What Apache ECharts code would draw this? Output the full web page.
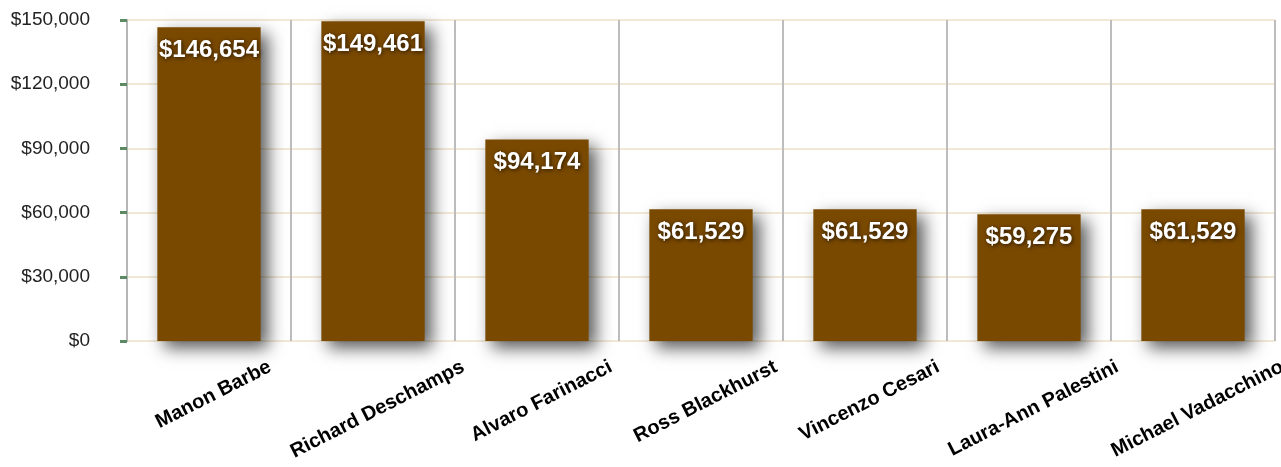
<!DOCTYPE html>
<html>

<head>
	<meta charset="UTF-8">
	<title></title>
	<style>
		html, body {
			margin: 0;
			padding: 0;
			background: #fff;
		}
		#chart {
			width: 1281px;
			height: 467px;
		}
	</style>
	<script src="https://cdn.jsdelivr.net/npm/echarts@6/dist/echarts.min.js"></script>
</head>

<body>
	<div id="chart"></div>
	<script>
		var names = ['Manon Barbe', 'Richard Deschamps', 'Alvaro Farinacci', 'Ross Blackhurst',
			'Vincenzo Cesari', 'Laura-Ann Palestini', 'Michael Vadacchino'];
		var sales = [146654, 149461, 94174, 61529, 61529, 59275, 61529];

		var yMin = 0, yMax = 150000, yStep = 30000;

		var labelFont = 'bold 20px "Liberation Sans", Arial, sans-serif';
		var labelAngle = 27;

		function money(v) {
			return '$' + String(v).replace(/\B(?=(\d{3})+(?!\d))/g, ',');
		}

		// the slanted names are centred on their column but hang from a common top line,
		// so each one gets a padding that depends on its own width
		var ctx = document.createElement('canvas').getContext('2d');
		ctx.font = labelFont;
		var rad = labelAngle * Math.PI / 180;
		var categories = names.map(function (n) {
			var w = ctx.measureText(n).width;
			var r = w * Math.sin(rad) * Math.sin(rad);
			var t = w * Math.sin(rad) * Math.cos(rad) / 2;
			return {
				value: n,
				textStyle: { align: 'center', verticalAlign: 'top', padding: [t, r, 0, 0] }
			};
		});

		var myChart = echarts.init(document.getElementById('chart'));

		var option = {
			animation: false,
			grid: {
				left: 127,
				right: 6,
				top: 20,
				bottom: 126,
				outerBoundsMode: 'none'
			},
			xAxis: {
				type: 'category',
				data: categories,
				axisLine: { show: false },
				axisTick: { show: false },
				splitLine: {
					show: true,
					lineStyle: { color: '#bdbdbd', width: 2 }
				},
				axisLabel: {
					interval: 0,
					rotate: labelAngle,
					align: 'center',
					verticalAlign: 'top',
					margin: 16,
					fontFamily: '"Liberation Sans", Arial, sans-serif',
					fontWeight: 'bold',
					fontSize: 20,
					color: '#000'
				}
			},
			yAxis: {
				type: 'value',
				min: yMin,
				max: yMax,
				interval: yStep,
				axisLine: {
					show: true,
					lineStyle: { color: '#b5b5b5', width: 2 }
				},
				axisTick: {
					show: true,
					length: 7,
					lineStyle: { color: '#5b8a63', width: 3 }
				},
				splitLine: {
					lineStyle: { color: '#f1e9d6', width: 2 }
				},
				axisLabel: {
					margin: 37,
					fontFamily: '"Liberation Sans", Arial, sans-serif',
					fontSize: 19,
					color: '#222',
					formatter: money
				}
			},
			series: [{
				type: 'bar',
				data: sales,
				barWidth: '63%',
				itemStyle: {
					color: '#7a4900',
					shadowColor: 'rgba(0,0,0,0.65)',
					shadowBlur: 16,
					shadowOffsetX: 7,
					shadowOffsetY: 7
				},
				label: {
					show: true,
					position: 'insideTop',
					distance: 11,
					fontFamily: '"Liberation Sans", Arial, sans-serif',
					fontWeight: 'bold',
					fontSize: 24,
					color: '#fff',
					textShadowColor: 'rgba(0,0,0,0.7)',
					textShadowBlur: 4,
					textShadowOffsetX: 1,
					textShadowOffsetY: 1,
					formatter: function (p) { return money(p.value); }
				}
			}]
		};

		myChart.setOption(option);
	</script>
</body>

</html>
